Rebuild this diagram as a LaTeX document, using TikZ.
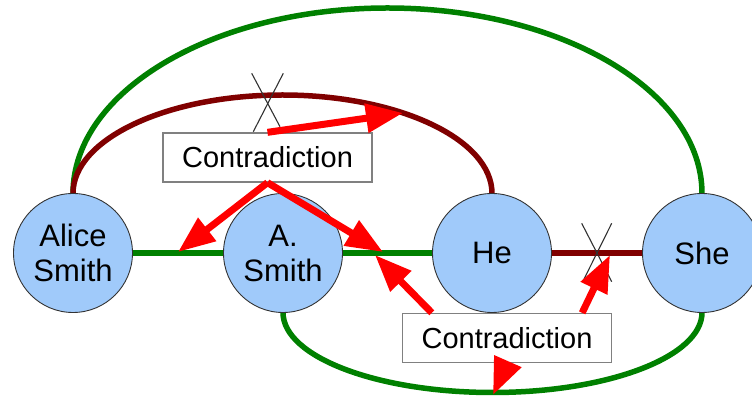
\documentclass[tikz,border=0pt]{standalone}
\usepackage{fontspec}
\setmainfont{Liberation Sans}
\usetikzlibrary{arrows.meta}
\definecolor{gline}{RGB}{0,128,0}
\definecolor{rline}{RGB}{128,0,0}
\definecolor{cfill}{RGB}{160,202,250}
\definecolor{boxline}{RGB}{128,128,128}
\definecolor{xline}{RGB}{50,50,50}
\tikzset{
  entity/.style={circle, draw=black!80, line width=0.9pt, fill=cfill, minimum size=119pt, inner sep=0pt, align=center, font=\fontsize{31}{35}\selectfont},
  contrbox/.style={rectangle, draw=boxline, line width=1.3pt, fill=white, minimum width=209pt, minimum height=49pt, inner sep=0pt, font=\fontsize{29}{33}\selectfont},
  greenlink/.style={draw=gline, line width=5.5pt},
  redlink/.style={draw=rline, line width=5.5pt},
  contrarrow/.style={draw=red, line width=7pt, -{Triangle[length=37pt,width=28pt]}},
  crossline/.style={draw=xline, line width=1.1pt}
}
\begin{document}
\begin{tikzpicture}[x=1pt,y=1pt]
\useasboundingbox (0,0) rectangle (752,401);
% entity positions
\coordinate (pA) at (73,148);
\coordinate (pB) at (283,148);
\coordinate (pC) at (492,148);
\coordinate (pD) at (702,148);
% links (drawn first, under the circles)
\path[greenlink] (73,207.5) arc[start angle=180, end angle=0, x radius=314.5, y radius=185.5];
\path[redlink] (73,207.5) arc[start angle=180, end angle=0, x radius=209.5, y radius=98.5];
\path[greenlink] (283,88.5) arc[start angle=180, end angle=360, x radius=209.5, y radius=80];
\path[greenlink] (pA) -- (pB);
\path[greenlink] (pB) -- (pC);
\path[redlink] (pC) -- (pD);
% entities
\node[entity] (alice) at (pA) {Alice\\Smith};
\node[entity] (asmith) at (pB) {A.\\Smith};
\node[entity] (he) at (pC) {He};
\node[entity] (she) at (pD) {She};
% contradiction boxes
\node[contrbox] (c1) at (267.5,243.5) {Contradiction};
\node[contrbox] (c2) at (507,63) {Contradiction};
% crosses
\draw[crossline] (251.7,327.7) -- (280,274.3);
\draw[crossline] (283.3,327.7) -- (253.3,269.3);
\draw[crossline] (581.7,177.7) -- (611.7,119.3);
\draw[crossline] (611.7,177.7) -- (582.7,119.3);
% arrow targets
\coordinate (t1) at (403,288);
\coordinate (t2) at (178,149);
\coordinate (t3) at (383,149);
\coordinate (t4) at (375,146);
\coordinate (t5) at (610,146);
\coordinate (t6) at (493,6);
% arrows
\draw[contrarrow] (c1.north) -- (t1);
\draw[contrarrow] (c1.south) -- (t2);
\draw[contrarrow] (c1.south) -- (t3);
\draw[contrarrow] ([xshift=30pt]c2.north west) -- (t4);
\draw[contrarrow] ([xshift=-30pt]c2.north east) -- (t5);
\draw[contrarrow] (c2.south) -- (t6);
\end{tikzpicture}
\end{document}
